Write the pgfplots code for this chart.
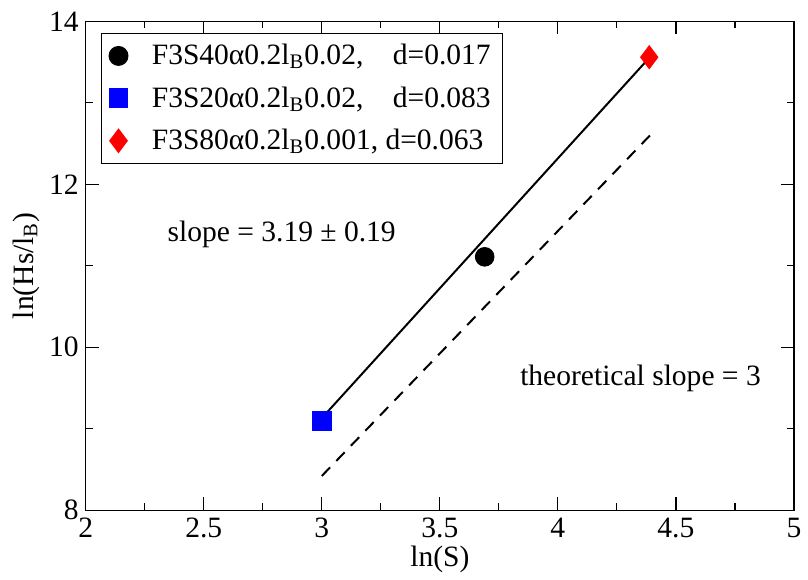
\documentclass[border=0pt]{standalone}
\usepackage{fontspec}
\setmainfont{Liberation Serif}
\usepackage{pgfplots}
\pgfplotsset{compat=1.18}

\newcommand{\lB}{l\textsubscript{B}}
\newcommand{\fs}{\fontsize{14.8}{17}\selectfont}

\begin{document}
\begin{tikzpicture}
\begin{axis}[
  scale only axis,
  width=355pt, height=245pt,
  xmin=2, xmax=5, ymin=8, ymax=14,
  xtick={2,2.5,...,5}, ytick={8,10,12,14},
  minor x tick num=1, minor y tick num=1,
  xticklabels={2,2.5,3,3.5,4,4.5,5},
  /pgf/number format/assume math mode=true,
  major tick length=6.5pt, minor tick length=3.5pt,
  axis line style={line width=0.6pt},
  every tick/.style={black, line width=0.6pt},
  tick label style={font=\fs},
  xticklabel style={yshift=-0.5pt},
  label style={font=\fs},
  xlabel={ln(S)}, ylabel={ln(Hs/\lB)},
  xlabel style={yshift=3pt},
  ylabel style={yshift=-2pt},
  legend style={font=\fs, at={(0.021,0.977)}, anchor=north west,
    draw=black, line width=0.6pt, inner xsep=4pt, inner ysep=3.5pt,
    row sep=5.5pt, column sep=10pt,
    cells={anchor=west}},
  legend cell align=left,
]
% fitted line and theoretical slope
\addplot[black, line width=1pt, forget plot] coordinates {(3.0,9.13) (4.38,13.53)};
\addplot[black, line width=1pt, dash pattern=on 6pt off 4.5pt, forget plot]
  coordinates {(3.0,8.42) (4.39,12.6)};
% data points
\addplot[only marks, mark=*, mark size=4.7pt, black] coordinates {(3.69,11.11)};
\addlegendentry{F3S40α0.2\lB0.02,\phantom{0}\ \ d=0.017}
\addplot[only marks, mark=square*, mark size=4.7pt, blue, mark options={fill=blue}] coordinates {(3.0,9.1)};
\addlegendentry{F3S20α0.2\lB0.02,\phantom{0}\ \ d=0.083}
\addplot[only marks, mark=diamond*, mark size=5.8pt, red, mark options={fill=red}] coordinates {(4.387,13.56)};
\addlegendentry{F3S80α0.2\lB0.001, d=0.063}
\node[font=\fs] at (axis cs:2.83,11.38) {slope = 3.19 ± 0.19};
\node[font=\fs] at (axis cs:4.35,9.62) {theoretical slope = 3};
\end{axis}
% a little extra room on the left and at the top
\path (current bounding box.west) ++(-3pt,0) coordinate (padleft);
\path (padleft) -- (current bounding box.east);
\path (current bounding box.north) ++(0,2.5pt) coordinate (padtop);
\path (padtop) -- (current bounding box.south);
\end{tikzpicture}
\end{document}
